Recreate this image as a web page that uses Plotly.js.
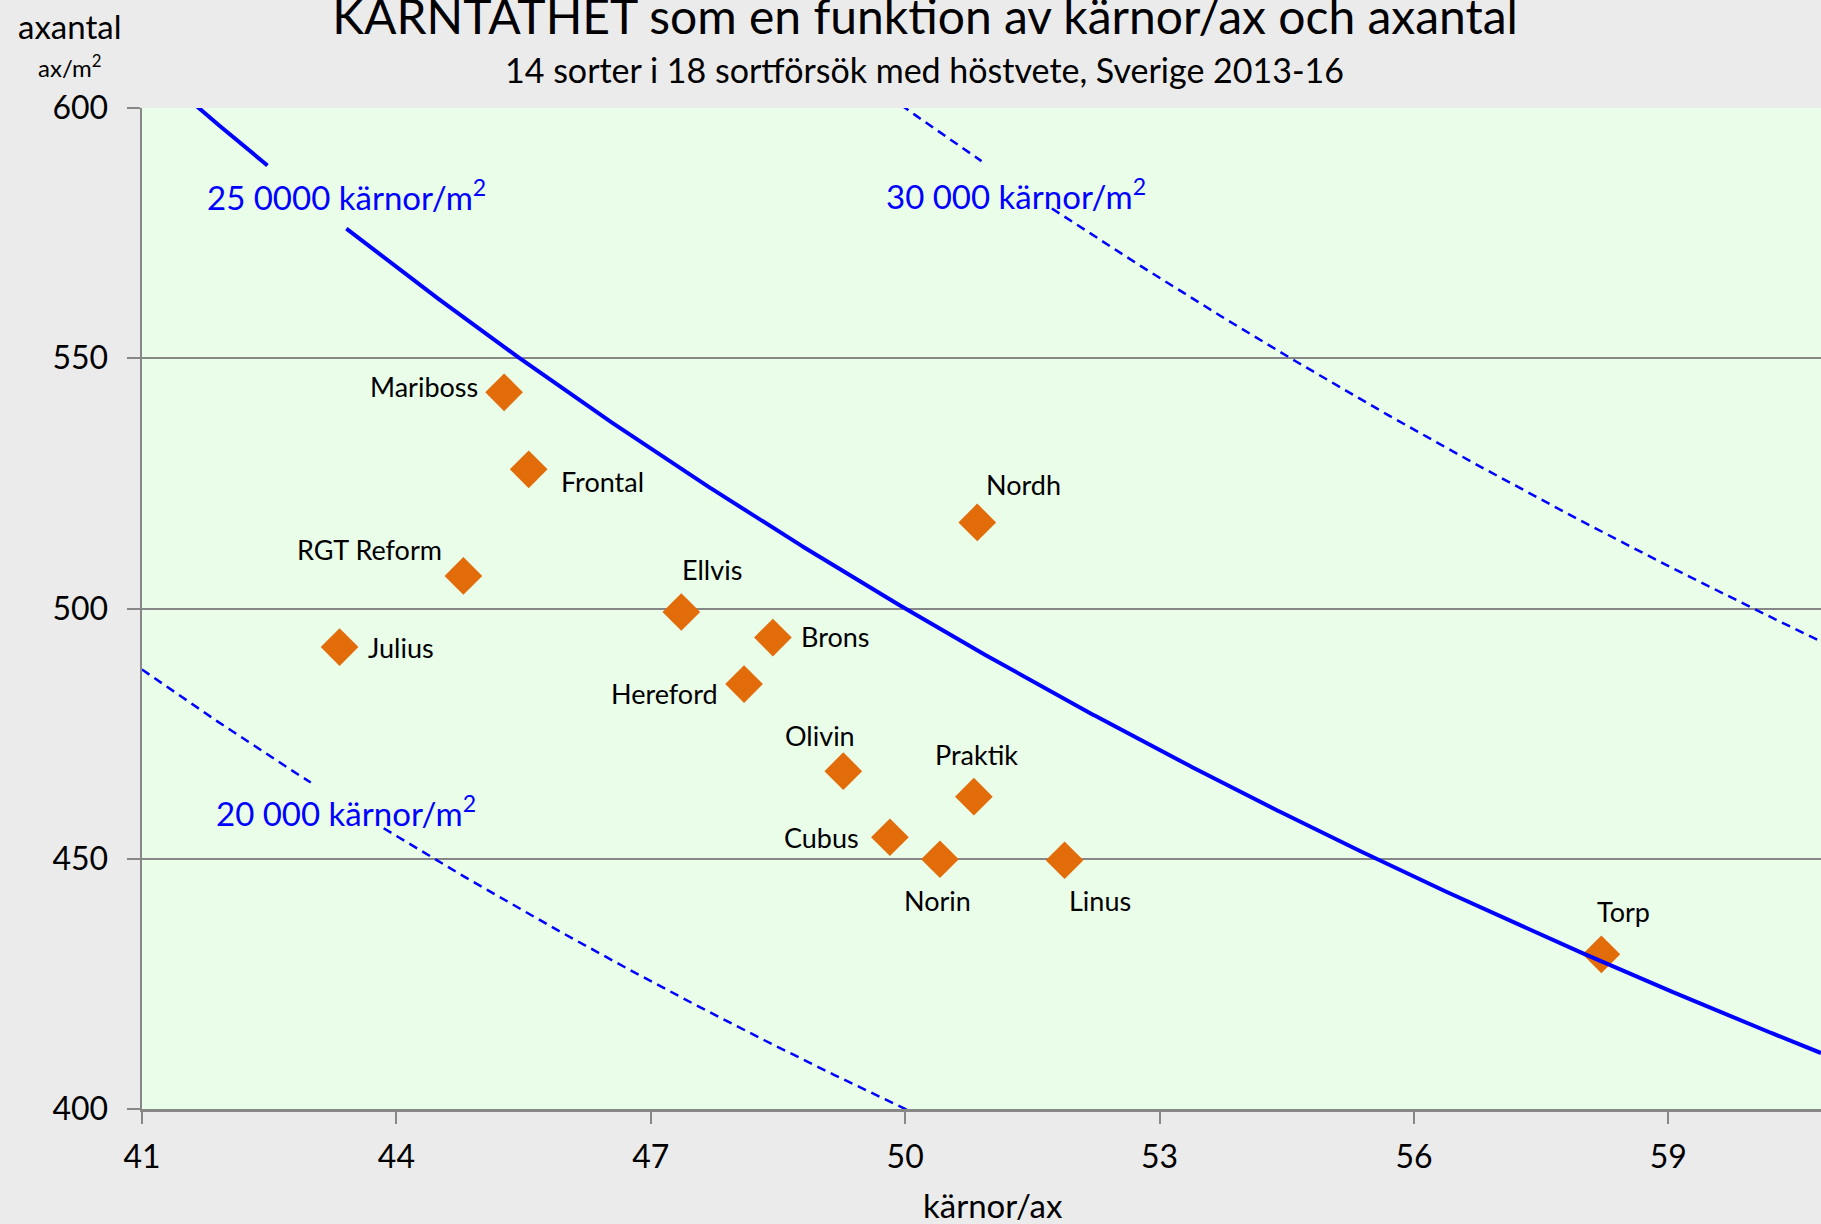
<!DOCTYPE html>
<html>
<head>
<meta charset="utf-8">
<script src="https://cdn.plot.ly/plotly-3.0.1.min.js"></script>
<style>html,body{margin:0;padding:0;background:#ebebeb;}#chart{width:1821px;height:1224px;}</style>
</head>
<body>
<div id="chart"></div>
<script>
// ---- data ----
const sorter = ['Mariboss','Frontal','RGT Reform','Julius','Ellvis','Brons','Hereford','Nordh','Olivin','Praktik','Cubus','Norin','Linus','Torp'];
const karnorPerAx = [45.27,45.56,44.79,43.33,47.36,48.44,48.10,50.85,49.27,50.81,49.82,50.41,51.88,58.21];
const axPerM2 = [543.2,527.8,506.5,492.3,499.3,494.2,484.9,517.2,467.5,462.4,454.3,449.9,449.7,430.9];

const densities = [20000, 25000, 30000];              // kärnor/m2 iso-lines (y = density / x)
const densityLabels = ['20 000 kärnor/m<sup>2</sup>', '25 0000 kärnor/m<sup>2</sup>', '30 000 kärnor/m<sup>2</sup>'];

const xTicks = [41,44,47,50,53,56,59];
const yTicks = [400,450,500,550,600];

// ---- styling / placement ----
const FONT = 'Lato, "Open Sans", sans-serif';
const BLUE = '#0000ff';
const ORANGE = '#e36c0a';
const AXC = '#878787';
const XR = [41, 60.8], YR = [400, 600];

// gap in each iso-line where its label sits, and label anchor
const curveStyle = [
  {dash:'9px,6px', width:2.5, gap:[42.99,43.85], lx:41.85, ly:459.5},
  {dash:'solid',   width:4,   gap:[42.48,43.41], lx:41.74, ly:582.6},
  {dash:'9px,6px', width:2.5, gap:[50.90,51.73], lx:49.75, ly:582.8}
];

// [xanchor, xshift, yshift]
const labelPlace = {
  'Mariboss':['right',-24,6], 'Frontal':['left',30,-12], 'RGT Reform':['right',-19,26],
  'Julius':['left',26,0], 'Ellvis':['left',-1,43], 'Brons':['left',26,1],
  'Hereford':['right',-24,-9], 'Nordh':['left',7,38], 'Olivin':['center',-23,36],
  'Praktik':['center',3,42], 'Cubus':['right',-29,0], 'Norin':['center',-2,-41],
  'Linus':['left',2,-40], 'Torp':['left',-6,43]
};

const traces = [];
const annotations = [];

// markers first, so the iso-lines pass over them as in the reference
traces.push({x: karnorPerAx, y: axPerM2, text: sorter, type:'scatter', mode:'markers', hoverinfo:'text',
  marker:{symbol:'diamond', size:29, color:ORANGE, line:{width:0}}, cliponaxis:false});

densities.forEach((K, i) => {
  const st = curveStyle[i];
  const xs = [], ys = [];
  let gapDone = false;
  for (let x = XR[0]; x <= XR[1] + 1e-9; x += 0.02) {
    const xv = +x.toFixed(3);
    if (xv > st.gap[0] && xv < st.gap[1]) {
      if (!gapDone) { xs.push(st.gap[0]); ys.push(K / st.gap[0]); xs.push(null); ys.push(null); gapDone = true; xs.push(st.gap[1]); ys.push(K / st.gap[1]); }
      continue;
    }
    xs.push(xv); ys.push(K / xv);
  }
  traces.push({x: xs, y: ys, type:'scatter', mode:'lines', connectgaps:false, hoverinfo:'skip',
    line:{color:BLUE, width:st.width, dash:st.dash}});
  annotations.push({x: st.lx, y: st.ly, xref:'x', yref:'y', text: densityLabels[i], showarrow:false,
    xanchor:'left', yanchor:'middle', font:{family:FONT, size:33, color:BLUE}});
});

sorter.forEach((name, i) => {
  const p = labelPlace[name];
  annotations.push({x: karnorPerAx[i], y: axPerM2[i], xref:'x', yref:'y', text: name, showarrow:false,
    xanchor:p[0], yanchor:'middle', xshift:p[1], yshift:p[2], font:{family:FONT, size:27, color:'#000'}});
});

annotations.push({x:0.4663, y:1.038, xref:'paper', yref:'paper', xanchor:'center', yanchor:'middle', showarrow:false,
  text:'14 sorter i 18 sortförsök med höstvete, Sverige 2013-16', font:{family:FONT, size:34, color:'#000'}});
annotations.push({x:-0.0429, y:1.082, xref:'paper', yref:'paper', xanchor:'center', yanchor:'middle', showarrow:false,
  text:'axantal', font:{family:FONT, size:33, color:'#000'}});
annotations.push({x:-0.0429, y:1.042, xref:'paper', yref:'paper', xanchor:'center', yanchor:'middle', showarrow:false,
  text:'ax/m<sup>2</sup>', font:{family:FONT, size:24, color:'#000'}});
annotations.push({x:0.5068, y:-0.0959, xref:'paper', yref:'paper', xanchor:'center', yanchor:'middle', showarrow:false,
  text:'kärnor/ax', font:{family:FONT, size:33, color:'#000'}});

const layout = {
  width:1821, height:1224,
  paper_bgcolor:'#ebebeb', plot_bgcolor:'#e9fde9',
  margin:{l:142, r:0, t:108, b:115},
  showlegend:false,
  title:{text:'KÄRNTÄTHET som en funktion av kärnor/ax och axantal', x:0.508, xref:'container', xanchor:'center',
    y:1, yref:'container', yanchor:'top', pad:{t:0}, font:{family:FONT, size:48, color:'#000'}},
  xaxis:{range:XR, tickvals:xTicks, ticktext:xTicks.map(String), showgrid:false, zeroline:false,
    showline:true, linecolor:AXC, linewidth:2.5, ticks:'outside', ticklen:12, tickwidth:2, tickcolor:AXC,
    ticklabelstandoff:6, tickfont:{family:FONT, size:32, color:'#000'}},
  yaxis:{range:YR, tickvals:yTicks, ticktext:yTicks.map(String), showgrid:true, gridcolor:AXC, gridwidth:2,
    zeroline:false, showline:true, linecolor:AXC, linewidth:2.5, ticks:'outside', ticklen:13, tickwidth:2,
    tickcolor:AXC, ticklabelstandoff:12, tickfont:{family:FONT, size:32, color:'#000'}},
  annotations: annotations
};

Plotly.newPlot('chart', traces, layout, {staticPlot:true, displayModeBar:false});
</script>
</body>
</html>
